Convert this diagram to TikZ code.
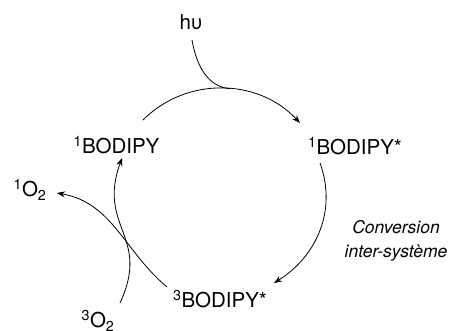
\documentclass[tikz,border=0pt]{standalone}
\usepackage{fontspec}
\setmainfont{TeX Gyre Heros}
\usetikzlibrary{arrows.meta}

\begin{document}
\begin{tikzpicture}[x=1pt,y=1pt,
    espece/.style={anchor=base,inner sep=0pt,font=\fontsize{20.5}{24}\selectfont},
    trait/.style={line width=0.8pt},
    fleche/.style={trait,-{Stealth[length=8pt,width=6pt]}}]
  \useasboundingbox (0,0) rectangle (456,331);

  % les especes
  \node[espece] (hv)  at (191,301)   {hυ};
  \node[espece] (B1)  at (116.5,177) {\textsuperscript{1}BODIPY};
  \node[espece] (B1s) at (355,176)   {\textsuperscript{1}BODIPY*};
  \node[espece] (B3s) at (220,23)    {\textsuperscript{3}BODIPY*};
  \node[espece] (O1)  at (30,134)    {\textsuperscript{1}O\textsubscript{2}};
  \node[espece] (O3)  at (98,3)      {\textsuperscript{3}O\textsubscript{2}};
  \node[font=\fontsize{17.5}{24}\selectfont\itshape,align=center] (isc) at (396,90)
    {Conversion\\inter-système};

  % le cycle
  \draw[fleche] ([shift={(26.5,34)}]B1.base) to[out=45,in=133]
    coordinate[pos=0.55] (m) ([shift={(-55,32)}]B1s.base);
  \draw[fleche] ([shift={(-35,-8)}]B1s.base) to[out=-70,in=32]
    ([shift={(54,25)}]B3s.base);
  \draw[fleche] ([shift={(-53,21)}]B3s.base) to[out=140,in=-10]
    ([shift={(27,4)}]O1.base);
  \draw[fleche] ([shift={(22,25)}]O3.base) to[out=65,in=-110,looseness=1.3]
    ([shift={(5.5,-4)}]B1.base);

  % excitation
  \draw[trait] ([shift={(1,-10)}]hv.base) to[out=-80,in=175] (m);
\end{tikzpicture}
\end{document}
